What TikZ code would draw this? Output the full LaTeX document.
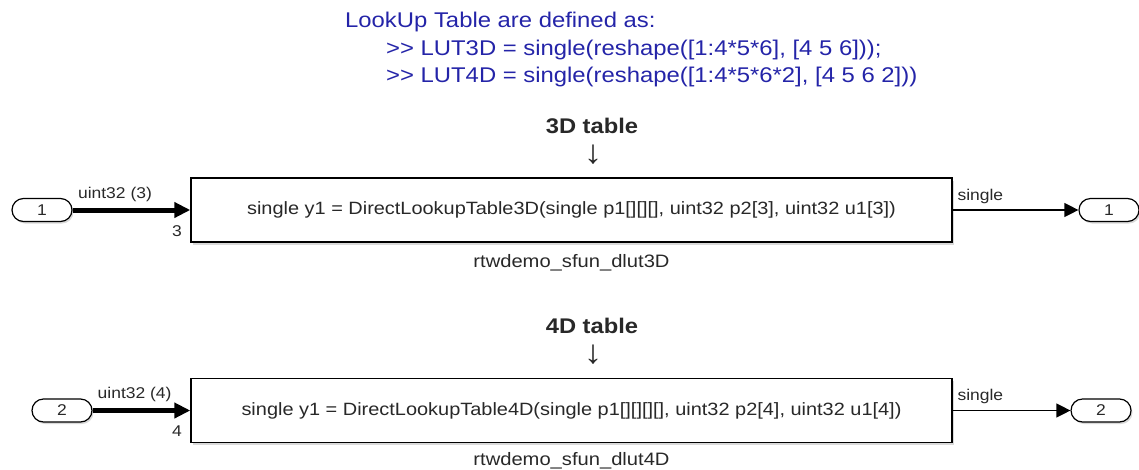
\documentclass[tikz,border=0pt]{standalone}
\usepackage{fontspec}
\setmainfont{Liberation Sans}[FakeStretch=1.12]
\usepackage{tikz}
\usetikzlibrary{positioning,arrows.meta,shapes.misc,shadows}

\definecolor{notecol}{RGB}{36,36,168}
\definecolor{txtcol}{RGB}{40,40,40}

\begin{document}
\begin{tikzpicture}[
  x=1pt, y=-1pt,
  font=\fontsize{15.6}{18}\selectfont, text=txtcol,
  blk/.style={draw, line width=1.4pt, fill=white, minimum width=761pt,
              minimum height=64pt, inner sep=0pt, font=\fontsize{17.8}{20}\selectfont,
              drop shadow={shadow xshift=2pt, shadow yshift=-2.5pt, opacity=0.3}},
  port/.style={draw, rounded rectangle, line width=1.2pt, fill=white,
               minimum width=60pt, minimum height=23pt, inner sep=0pt,
               drop shadow={shadow xshift=1.5pt, shadow yshift=-2pt, opacity=0.3}},
  hdr/.style={font=\fontsize{21.2}{24}\bfseries\selectfont},
  dwn/.style={font=\fontsize{33}{36}\selectfont, inner sep=0pt},
  note/.style={text=notecol, font=\fontsize{21.3}{27.5}\selectfont, align=left,
               anchor=north west, inner sep=0pt},
  nm/.style={font=\fontsize{18}{20}\selectfont, inner sep=0pt},
  bus/.style={-{Triangle[length=16pt,width=15pt]}, line width=5pt},
  sig/.style={-{Triangle[length=14pt,width=14pt]}, line width=1.2pt},
  lbl/.style={inner sep=1pt},
]
\useasboundingbox (0,0) rectangle (1139,469);

% annotation
\node[note] (note) at (345,12) {LookUp Table are defined as:\\
\hspace*{41pt}{>}{>} LUT3D = single(reshape([1:4*5*6], [4 5 6]));\\
\hspace*{41pt}{>}{>} LUT4D = single(reshape([1:4*5*6*2], [4 5 6 2]))};

% 3D table
\node[hdr, anchor=base] (t3) at (592,133) {3D table};
\node[dwn] (d3) at (593,155) {↓};
\node[blk] (lut3) at (571.5,210) {single y1 = DirectLookupTable3D(single p1[][][], uint32 p2[3], uint32 u1[3])};
\node[nm, below=12pt of lut3] (name3) {rtwdemo\_sfun\_dlut3D};
\node[port] (in1) at (42,210) {1};
\node[port] (out1) at (1109,210) {1};

\draw[bus] (in1.east) -- node[lbl, above=5pt, pos=0.36] {uint32 (3)} (lut3.west |- in1.east)
  node[lbl, below left=12pt and 5pt] {3};
\draw[sig] (out1.west -| lut3.east) -- node[lbl, above=5pt, pos=0.22] {single} (out1.west);

% 4D table
\node[hdr, anchor=base] (t4) at (592,333) {4D table};
\node[dwn] (d4) at (593,355) {↓};
\node[blk] (lut4) at (571.5,410.5) {single y1 = DirectLookupTable4D(single p1[][][][], uint32 p2[4], uint32 u1[4])};
\node[nm, below=9pt of lut4] (name4) {rtwdemo\_sfun\_dlut4D};
\node[port] (in2) at (62,410.5) {2};
\node[port] (out2) at (1101,410.5) {2};

\draw[bus] (in2.east) -- node[lbl, above=5pt, pos=0.43] {uint32 (4)} (lut4.west |- in2.east)
  node[lbl, below left=12pt and 5pt] {4};
\draw[sig] (out2.west -| lut4.east) -- node[lbl, above=5pt, pos=0.235] {single} (out2.west);
\end{tikzpicture}
\end{document}
